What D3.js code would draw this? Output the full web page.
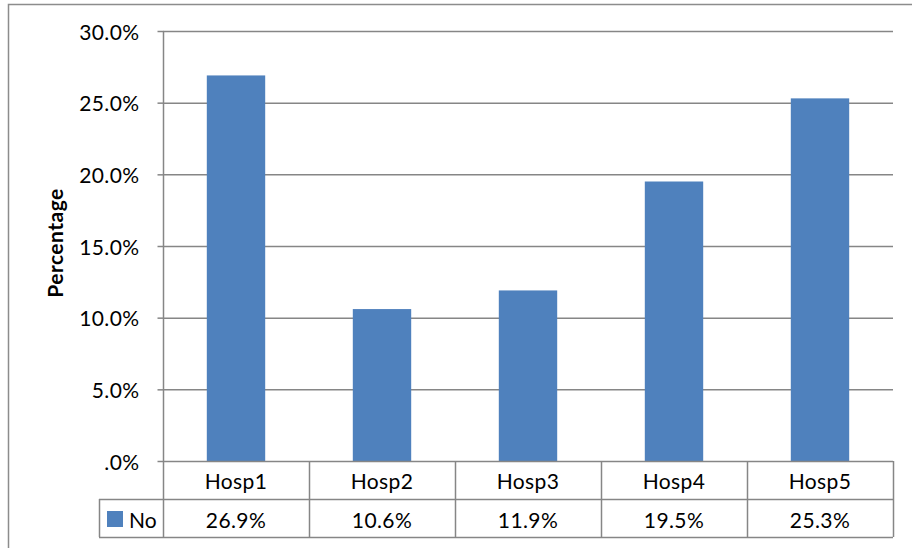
<!DOCTYPE html>
<html><head><meta charset="utf-8">
<script src="https://cdn.jsdelivr.net/npm/d3@7"></script>
<style>body{margin:0;background:#fff;} svg{display:block;}</style>
</head><body>
<script>
const categories = ["Hosp1","Hosp2","Hosp3","Hosp4","Hosp5"];
const values = [26.9, 10.6, 11.9, 19.5, 25.3];
const seriesName = "No";
const yTicks = [0,5,10,15,20,25,30];
const yLabel = "Percentage";

const W=912,H=548;
const svg=d3.select("body").append("svg").attr("width",W).attr("height",H);
const font="Lato, 'Open Sans', sans-serif";
const fs=21;
const grid="#868686";
svg.append("rect").attr("x",8.5).attr("y",4.5).attr("width",W).attr("height",H).attr("fill","none").attr("stroke","#8c8c8c").attr("stroke-width",1.5);

const L=163,R=893,T=31,B=461;
const x=d3.scaleBand().domain(categories).range([L,R]).paddingInner(0.6).paddingOuter(0.3);
const xc=d3.scaleBand().domain(categories).range([L,R]);
const y=d3.scaleLinear().domain([0,30]).range([B,T]);

// gridlines
svg.append("g").selectAll("line").data(yTicks.filter(d=>d>0)).join("line")
  .attr("x1",L).attr("x2",R).attr("y1",d=>y(d)+0.5).attr("y2",d=>y(d)+0.5)
  .attr("stroke",grid).attr("stroke-width",1.5);

// bars
svg.append("g").selectAll("rect").data(values).join("rect")
  .attr("x",(d,i)=>x(categories[i])).attr("width",x.bandwidth())
  .attr("y",d=>y(d)).attr("height",d=>B-y(d)).attr("fill","#4F81BD");

// y axis
const ya=svg.append("g").attr("transform",`translate(${L+0.5},0)`)
  .call(d3.axisLeft(y).tickValues(yTicks).tickSize(6).tickPadding(18).tickFormat(d=>d===0?".0%":d.toFixed(1)+"%"));
ya.select(".domain").remove();
ya.selectAll(".tick line").attr("stroke",grid).attr("stroke-width",1.5);
ya.selectAll("text").attr("font-family",font).attr("font-size",fs).attr("fill","#000").attr("dy","8px").attr("letter-spacing","0.4px");
svg.append("line").attr("x1",L+0.5).attr("x2",L+0.5).attr("y1",T).attr("y2",537).attr("stroke",grid).attr("stroke-width",1.5);

// data table
const r1=B, r2=499, r3=537;
const tbl=svg.append("g").attr("stroke",grid).attr("stroke-width",1.5);
tbl.append("line").attr("x1",L).attr("x2",R).attr("y1",r1+0.5).attr("y2",r1+0.5);
tbl.append("line").attr("x1",99).attr("x2",R).attr("y1",r2+0.5).attr("y2",r2+0.5);
tbl.append("line").attr("x1",99).attr("x2",R).attr("y1",r3+0.5).attr("y2",r3+0.5);
tbl.append("line").attr("x1",99.5).attr("x2",99.5).attr("y1",r2).attr("y2",r3);
tbl.selectAll(".v").data(categories).join("line").attr("class","v")
  .attr("x1",d=>xc(d)+xc.bandwidth()+0.5).attr("x2",d=>xc(d)+xc.bandwidth()+0.5).attr("y1",r1).attr("y2",r3);

svg.append("g").selectAll("text").data(categories).join("text")
  .attr("x",d=>xc(d)+xc.bandwidth()/2).attr("y",489)
  .attr("text-anchor","middle").attr("font-family",font).attr("font-size",fs).attr("letter-spacing","0.4px").text(d=>d);
svg.append("g").selectAll("text").data(values).join("text")
  .attr("x",(d,i)=>xc(categories[i])+xc.bandwidth()/2).attr("y",527.5)
  .attr("text-anchor","middle").attr("font-family",font).attr("font-size",fs).attr("letter-spacing","0.4px").text(d=>d.toFixed(1)+"%");

// legend key
svg.append("rect").attr("x",107).attr("y",511).attr("width",16).attr("height",16).attr("fill","#4F81BD");
svg.append("text").attr("x",129).attr("y",527.5).attr("font-family",font).attr("font-size",fs).text(seriesName);

// y label
svg.append("text").attr("transform",`translate(63,243) rotate(-90)`)
  .attr("text-anchor","middle").attr("font-family",font).attr("font-weight","bold").attr("font-size",fs).attr("letter-spacing","0.5px").text(yLabel);
</script>
</body></html>
